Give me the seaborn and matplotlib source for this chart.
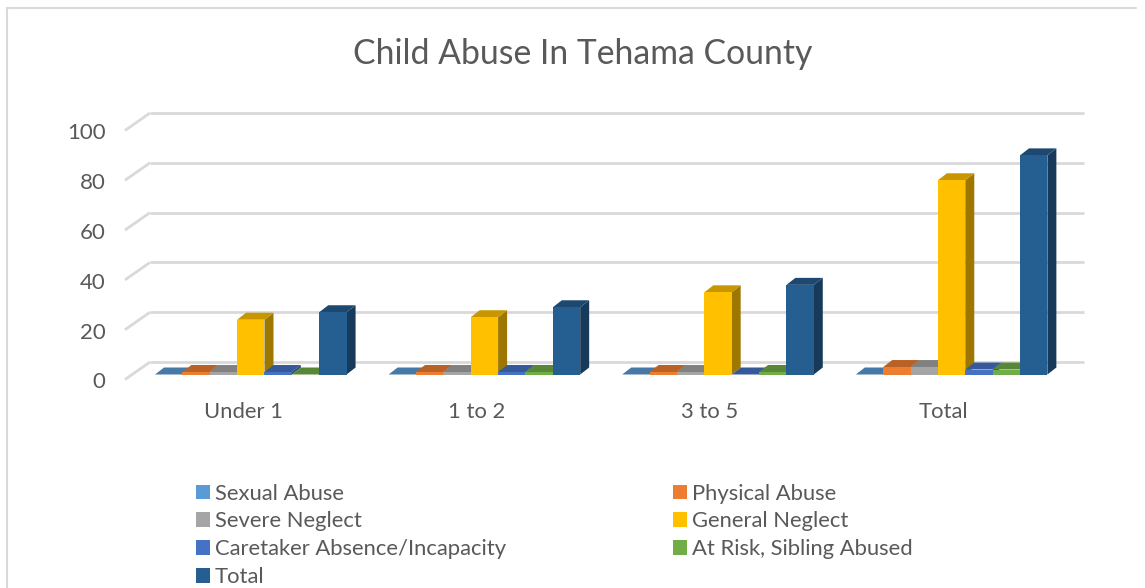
import matplotlib
matplotlib.use("Agg")
import matplotlib.pyplot as plt
import pandas as pd
import seaborn as sns
from matplotlib.colors import to_rgb
from matplotlib.lines import Line2D
from matplotlib.patches import Polygon
from matplotlib.transforms import Affine2D

categories = ["Under 1", "1 to 2", "3 to 5", "Total"]
series_names = ["Sexual Abuse", "Physical Abuse", "Severe Neglect", "General Neglect",
                "Caretaker Absence/Incapacity", "At Risk, Sibling Abused", "Total"]
sexual = [0, 0, 0, 0]
physical = [1, 1, 1, 3]
severe = [1, 1, 1, 3]
general = [22, 23, 33, 78]
caretaker = [1, 1, 0, 2]
at_risk = [0, 1, 1, 2]
total = [25, 27, 36, 88]
colors = ["#5B9BD5", "#ED7D31", "#A5A5A5", "#FFC000", "#4472C4", "#70AD47", "#255E91"]
y_ticks = [0, 20, 40, 60, 80, 100]

W, H = 1145, 588
sns.set_style("white")
plt.rcParams["font.family"] = ["Lato", "DejaVu Sans"]
text_col = "#595959"
grid_col = "#D9D9D9"

rows = []
for name, vals in zip(series_names, [sexual, physical, severe, general, caretaker, at_risk, total]):
    for c, v in zip(categories, vals):
        rows.append({"group": c, "series": name, "value": v})
df = pd.DataFrame(rows)

fig = plt.figure(figsize=(W / 100, H / 100), dpi=100)
# axes = front plane of the excel 3d chart
px_y = 2.49
ax = fig.add_axes([125 / W, 1 - 374.5 / H, 934 / W, 249 / H])
sns.barplot(data=df, x="group", y="value", hue="series", order=categories, hue_order=series_names,
            palette=colors, saturation=1, width=0.82, gap=0, dodge=True, ax=ax, zorder=4,
            linewidth=0, edgecolor="none")
sns.despine(ax=ax, left=True, bottom=True)

# first group centre sits at 250.8px, groups 233.6px apart
x_unit = 233.6
ax.set_xlim(-(250.8 - 125) / x_unit, (1059 - 250.8) / x_unit)
ax.set_ylim(0, 100)

# back wall grid + side wall diagonals
wall_dx, wall_dy = 25 / 934, 12.5 / px_y
for v in y_ticks:
    trans = ax.get_yaxis_transform()
    ax.plot([wall_dx, 1 + wall_dx], [v + wall_dy] * 2, color=grid_col, lw=2, transform=trans,
            clip_on=False, zorder=1, solid_capstyle="butt")
    ax.plot([0, wall_dx], [v - 5 / px_y, v + wall_dy], color=grid_col, lw=2, transform=trans,
            clip_on=False, zorder=1, solid_capstyle="butt")


def shade(col, f):
    return tuple(c * f for c in to_rgb(col))


# fake 3d: side and top faces from each bar
depth_x, depth_y = 9 / x_unit, 7 / px_y
for cont, col in zip(ax.containers, colors):
    for bar in cont:
        x0, w, h = bar.get_x(), bar.get_width(), bar.get_height()
        x1 = x0 + w
        top = [(x0, h), (x1, h), (x1 + depth_x, h + depth_y), (x0 + depth_x, h + depth_y)]
        side = [(x1, 0), (x1 + depth_x, depth_y), (x1 + depth_x, h + depth_y), (x1, h)]
        ax.add_patch(Polygon(side, closed=True, fc=shade(col, 0.62), lw=0, zorder=2, clip_on=False))
        ax.add_patch(Polygon(top, closed=True, fc=shade(col, 0.78), lw=0, zorder=3, clip_on=False))

ax.set_xlabel("")
ax.set_ylabel("")
ax.set_xticks([(243 + 233.4 * i - 250.8) / x_unit for i in range(len(categories))])
ax.set_xticklabels(categories)
ax.set_yticks(y_ticks)
ax.tick_params(axis="x", length=0, pad=19.6, labelsize=15.8, labelcolor=text_col)
ax.tick_params(axis="y", length=0, pad=14, labelsize=16, labelcolor=text_col)
for lab in ax.get_yticklabels():
    lab.set_transform(lab.get_transform() + Affine2D().translate(0, -6))

fig.suptitle("Child Abuse In Tehama County", x=583 / W, y=1 - 54 / H, va="center",
             fontsize=24.3, color=text_col)

handles, labels = ax.get_legend_handles_labels()
order = [0, 2, 4, 6, 1, 3, 5]
leg = fig.legend([handles[i] for i in order], [labels[i] for i in order], ncols=2,
                 loc="upper left", bbox_to_anchor=(196 / W, 1 - 483.5 / H), frameon=False,
                 fontsize=15.8, labelcolor=text_col, handlelength=0.64, handleheight=0.64,
                 handletextpad=0.205, labelspacing=0.36, columnspacing=7.64, borderpad=0, borderaxespad=0)
ax.get_legend().remove()

# chart frame, left and top edges only show
fig.add_artist(Line2D([7 / W, 7 / W], [0, 1 - 7.5 / H], color=grid_col, lw=1.5))
fig.add_artist(Line2D([7 / W, 1136 / W], [1 - 7.5 / H, 1 - 7.5 / H], color=grid_col, lw=1.5))

fig.savefig("out.png", dpi=100)
